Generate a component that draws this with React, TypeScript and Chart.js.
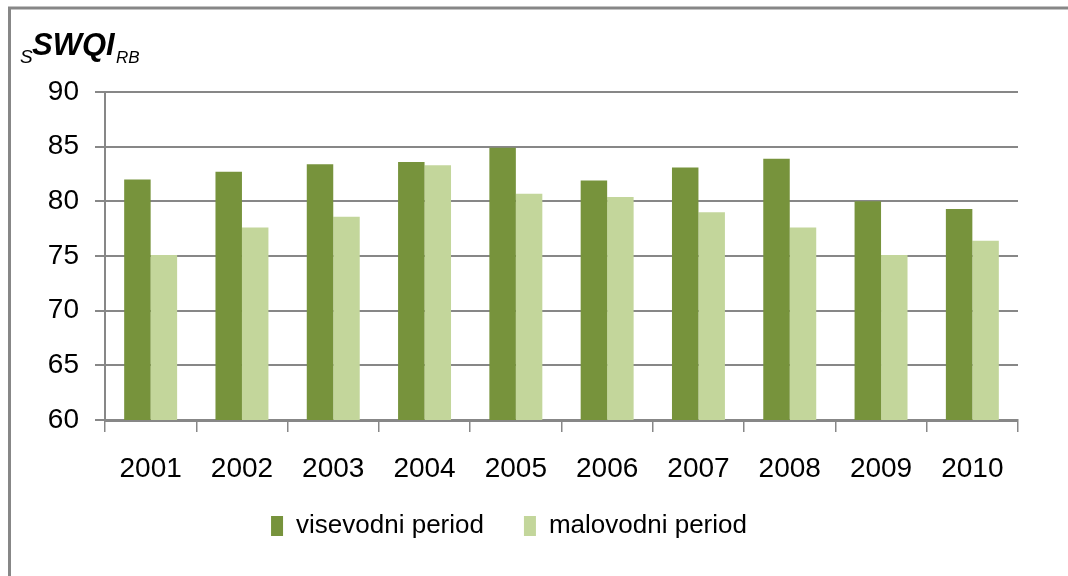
import React, { useEffect, useRef } from "react";
import { Chart, registerables } from "chart.js";

Chart.register(...registerables);

const years = ["2001", "2002", "2003", "2004", "2005", "2006", "2007", "2008", "2009", "2010"];
const visevodni = [82.0, 82.7, 83.4, 83.6, 84.9, 81.9, 83.1, 83.9, 80.0, 79.3];
const malovodni = [75.1, 77.6, 78.6, 83.3, 80.7, 80.4, 79.0, 77.6, 75.1, 76.4];
const seriesNames = ["visevodni period", "malovodni period"];
const seriesColors = ["#77933C", "#C3D69B"];
const yMin = 60;
const yMax = 90;
const yStep = 5;

const FONT = "'Liberation Sans', sans-serif";
const GRID = "#878787";

const framePlugin = {
  id: "frame",
  beforeDraw(chart: any) {
    const ctx = chart.ctx;
    ctx.save();
    ctx.fillStyle = "#ffffff";
    ctx.fillRect(0, 0, chart.width, chart.height);
    ctx.strokeStyle = GRID;
    ctx.lineWidth = 3;
    ctx.beginPath();
    ctx.moveTo(9.5, chart.height);
    ctx.lineTo(9.5, 8);
    ctx.lineTo(chart.width, 8);
    ctx.stroke();
    ctx.restore();
  },
};

const titlePlugin = {
  id: "titleText",
  afterDraw(chart: any) {
    const ctx = chart.ctx;
    ctx.save();
    ctx.fillStyle = "#000000";
    ctx.textBaseline = "alphabetic";
    ctx.textAlign = "left";
    ctx.font = `italic 19px ${FONT}`;
    ctx.fillText("S", 20, 63);
    ctx.font = `italic bold 31px ${FONT}`;
    ctx.fillText("SWQI", 32, 55);
    ctx.font = `italic 17px ${FONT}`;
    ctx.fillText("RB", 116, 63);
    ctx.restore();
  },
};

export default function App() {
  const ref = useRef<HTMLCanvasElement | null>(null);
  useEffect(() => {
    if (!ref.current) return;
    const chart = new Chart(ref.current, {
      type: "bar",
      data: {
        labels: years,
        datasets: [
          { label: seriesNames[0], data: visevodni, backgroundColor: seriesColors[0], borderWidth: 0 },
          { label: seriesNames[1], data: malovodni, backgroundColor: seriesColors[1], borderWidth: 0 },
        ],
      },
      options: {
        responsive: false,
        animation: false,
        maintainAspectRatio: false,
        layout: { padding: { top: 92, left: 0, right: 50, bottom: 27 } },
        datasets: { bar: { categoryPercentage: 0.58, barPercentage: 1.0 } },
        plugins: {
          legend: {
            position: "bottom",
            labels: {
              boxWidth: 12,
              boxHeight: 20,
              padding: 40,
              color: "#000",
              font: { family: FONT, size: 26 },
            },
          },
          tooltip: { enabled: false },
          title: { display: false },
        },
        scales: {
          x: {
            grid: {
              display: true,
              drawOnChartArea: false,
              drawTicks: true,
              tickLength: 12,
              color: GRID,
              lineWidth: 1.5,
              offset: true,
            },
            border: { display: true, color: GRID, width: 3 },
            ticks: { color: "#000", font: { family: FONT, size: 28 }, padding: 20 },
            afterFit: (s: any) => {
              s.height = 53;
              s._computeLabelArea = () => undefined;
            },
          },
          y: {
            min: yMin,
            max: yMax,
            ticks: { stepSize: yStep, color: "#000", font: { family: FONT, size: 28 }, padding: 16 },
            grid: { color: GRID, lineWidth: 2, tickLength: 10 },
            border: { display: true, color: GRID, width: 2 },
            afterFit: (s: any) => {
              s.width = 105;
            },
          },
        },
      },
      plugins: [framePlugin, titlePlugin],
    });
    return () => chart.destroy();
  }, []);
  return (
    <div style={{ position: "absolute", left: 0, top: 0, width: 1068, height: 576 }}>
      <canvas ref={ref} width={1068} height={576} />
    </div>
  );
}
